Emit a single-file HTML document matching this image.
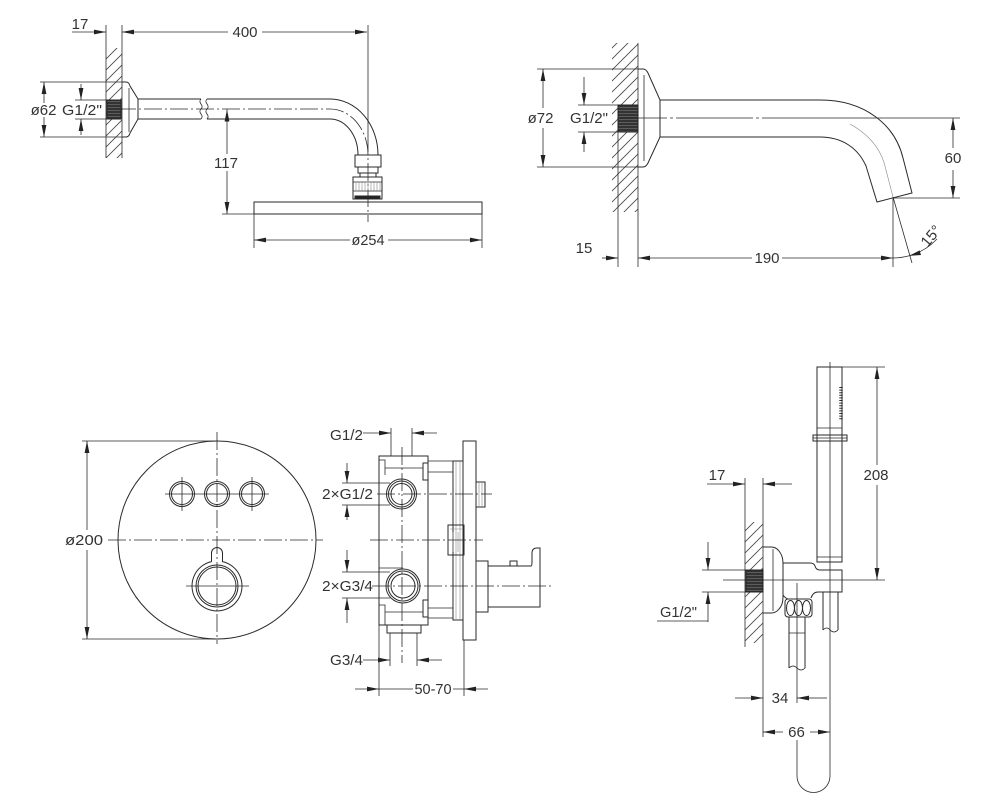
<!DOCTYPE html>
<html><head><meta charset="utf-8"><style>
html,body{margin:0;padding:0;background:#fff;}
svg{display:block}
text{font-family:"Liberation Sans",sans-serif;font-size:15px;fill:#333;stroke:none}
.c{stroke-dasharray:18 3 2 3;stroke-width:.8}
.t{stroke-width:.8}
.l{stroke:#888;stroke-width:.6}
</style></head><body>
<svg width="1000" height="803" viewBox="0 0 1000 803" xmlns="http://www.w3.org/2000/svg">
<defs>
<marker id="a" markerWidth="12" markerHeight="6" refX="12" refY="3" orient="auto-start-reverse" markerUnits="userSpaceOnUse"><path d="M0,0.6 L12,3 L0,5.4z" fill="#222" stroke="none"/></marker>
<pattern id="h" patternUnits="userSpaceOnUse" width="11" height="11"><path d="M0,11 L11,0 M-2,2 L2,-2 M9,13 L13,9" stroke="#444" stroke-width="0.8" fill="none"/></pattern>
<pattern id="th" patternUnits="userSpaceOnUse" width="3" height="3"><rect width="3" height="3" fill="#333"/><path d="M0,2.5 H3" stroke="#777" stroke-width=".6"/></pattern>
</defs>
<g fill="none" stroke="#2a2a2a" stroke-width="1">

<!-- ===== Region 1: shower arm ===== -->
<rect x="106" y="48" width="16" height="110" fill="url(#h)" stroke="none"/>
<path class="t" d="M106,25 V158 M122,25 V158"/>
<line class="t" x1="72" y1="32" x2="106" y2="32" marker-end="url(#a)"/>
<text x="80" y="29" text-anchor="middle">17</text>
<line class="t" x1="228" y1="32" x2="122" y2="32" marker-end="url(#a)"/>
<line class="t" x1="262" y1="32" x2="367" y2="32" marker-end="url(#a)"/>
<text x="245" y="37" text-anchor="middle">400</text>
<path class="t" d="M368,25 V152"/>
<path d="M122,82 L126,82 Q129,82 130,86 L138,99 L138,119 L130,133 Q129,137 126,137 L122,137"/>
<path class="t" d="M129,88 V132"/>
<rect x="107" y="100" width="14" height="19" fill="url(#th)" stroke="#222"/>
<path d="M138,99 L201,99 M138,119 L201,119"/>
<path class="t" d="M201,99 C197,103 205,105 201,109 C197,113 205,115 201,119 M207,99 C203,103 211,105 207,109 C203,113 211,115 207,119"/>
<path d="M207,99 L330,99 A48,56 0 0 1 378,155 M207,119 L330,119 A28,36 0 0 1 358,155"/>
<path class="c" d="M118,109 L330,109 A38,46 0 0 1 368,155 L368,222"/>
<rect x="355" y="155" width="26" height="12"/>
<rect x="358" y="167" width="20" height="6"/>
<rect x="360" y="173" width="16" height="4"/>
<rect x="353" y="177" width="29" height="22"/>
<path class="t" d="M353,182 H382 M353,191 H382"/>
<path class="l" d="M356,182 V191 M359,182 V191 M362,182 V191 M365,182 V191 M368,182 V191 M371,182 V191 M374,182 V191 M377,182 V191 M380,182 V191"/>
<rect x="355" y="196" width="25" height="3" fill="#222"/>
<rect x="254" y="202" width="228" height="12"/>
<line class="t" x1="227" y1="154" x2="227" y2="109.5" marker-end="url(#a)"/>
<line class="t" x1="227" y1="171" x2="227" y2="214" marker-end="url(#a)"/>
<text x="226" y="168" text-anchor="middle">117</text>
<path class="t" d="M222,214 H254 M254,214 V248 M482,214 V248"/>
<line class="t" x1="350" y1="240" x2="254" y2="240" marker-end="url(#a)"/>
<line class="t" x1="388" y1="240" x2="482" y2="240" marker-end="url(#a)"/>
<text x="368" y="245" text-anchor="middle" textLength="33" lengthAdjust="spacingAndGlyphs">ø254</text>
<path class="t" d="M40,82 H122 M40,137 H122"/>
<line class="t" x1="44" y1="103" x2="44" y2="82" marker-end="url(#a)"/>
<line class="t" x1="44" y1="117" x2="44" y2="137" marker-end="url(#a)"/>
<text x="43.5" y="115" text-anchor="middle">ø62</text>
<path class="t" d="M75,100 H107 M75,119 H107"/>
<line class="t" x1="81" y1="84" x2="81" y2="100" marker-end="url(#a)"/>
<line class="t" x1="81" y1="135" x2="81" y2="119" marker-end="url(#a)"/>
<text x="82" y="115" text-anchor="middle" textLength="40" lengthAdjust="spacingAndGlyphs">G1/2"</text>

<!-- ===== Region 2: spout ===== -->
<rect x="612" y="43" width="26" height="169" fill="url(#h)" stroke="none"/>
<path class="t" d="M638,43 V267 M618,105 V267"/>
<path d="M638,69 L643,69 Q646,69 648,73 L660,100 L660,137 L648,163 Q646,167 643,167 L638,167"/>
<path class="t" d="M644,75 V161"/>
<rect x="618" y="105" width="20" height="27" fill="url(#th)" stroke="#222"/>
<path d="M660,100 L820,100 C865,100 895,125 903,158 L912,193 L877,202 L866,166 C858,148 842,137 820,137 L660,137"/>
<path class="l" d="M850,124 C870,135 882,150 886,170 L893,197"/>
<path class="t" d="M618,118 H667 M670,118 H673 M676,118 H753 M756,118 H759 M762,118 H960"/>
<path class="t" d="M537,69 H638 M537,167 H638"/>
<line class="t" x1="543" y1="108" x2="543" y2="69" marker-end="url(#a)"/>
<line class="t" x1="543" y1="128" x2="543" y2="167" marker-end="url(#a)"/>
<text x="540.5" y="123" text-anchor="middle">ø72</text>
<path class="t" d="M578,105 H618 M578,132 H618"/>
<line class="t" x1="584" y1="77" x2="584" y2="105" marker-end="url(#a)"/>
<line class="t" x1="584" y1="152" x2="584" y2="132" marker-end="url(#a)"/>
<text x="589" y="123" text-anchor="middle" textLength="38" lengthAdjust="spacingAndGlyphs">G1/2"</text>
<line class="t" x1="953" y1="148" x2="953" y2="118" marker-end="url(#a)"/>
<line class="t" x1="953" y1="170" x2="953" y2="198" marker-end="url(#a)"/>
<text x="953" y="163" text-anchor="middle">60</text>
<path class="t" d="M893,198 H960"/>
<line class="t" x1="602" y1="258" x2="618" y2="258" marker-end="url(#a)"/>
<text x="584" y="253" text-anchor="middle">15</text>
<line class="t" x1="752" y1="258" x2="638" y2="258" marker-end="url(#a)"/>
<line class="t" x1="782" y1="258" x2="893" y2="258" marker-end="url(#a)"/>
<text x="767" y="263" text-anchor="middle">190</text>
<path class="t" d="M893,197 V267 M893,197 L912,263"/>
<path class="t" d="M893,258 A61,61 0 0 0 908.8,255.9"/>
<path class="t" d="M937,239 A61,61 0 0 1 908.8,255.9" marker-end="url(#a)"/>
<text transform="translate(931,236) rotate(-50)" x="0" y="5" text-anchor="middle">15°</text>

<!-- ===== Region 3: front plate ===== -->
<circle cx="217" cy="540" r="99"/>
<path class="c" d="M217,432 V644 M108,540 H323"/>
<path class="t" d="M82,441 H217 M82,639 H217"/>
<line class="t" x1="87" y1="530" x2="87" y2="441" marker-end="url(#a)"/>
<line class="t" x1="87" y1="550" x2="87" y2="639" marker-end="url(#a)"/>
<text x="84" y="545" text-anchor="middle" textLength="38" lengthAdjust="spacingAndGlyphs">ø200</text>
<circle cx="182" cy="494" r="12.5"/><circle cx="182" cy="494" r="10.5"/>
<circle cx="217" cy="494" r="12.5"/><circle cx="217" cy="494" r="10.5"/>
<circle cx="252" cy="494" r="12.5"/><circle cx="252" cy="494" r="10.5"/>
<path class="t" d="M165,494 H269 M182,477 V511 M252,477 V511"/>
<path d="M211.5,561.6 V553 A5.5,5.5 0 0 1 222.5,553 V561.6 A25,25 0 1 1 211.5,561.6"/>
<circle cx="217" cy="586" r="21"/>
<circle cx="217" cy="586" r="19"/>
<path class="t" d="M186,586 H249"/>

<!-- ===== Region 4: valve side ===== -->
<rect x="379" y="456" width="49" height="169"/>
<path class="t" d="M379,460 H385 V475 M385,468 H423"/>
<rect x="423" y="463" width="5" height="17"/>
<path class="t" d="M428,461 H453 M428,472 H453"/>
<rect x="453" y="461" width="10" height="159"/>
<path class="l" d="M456,461 V620 M460,461 V620"/>
<rect x="463" y="441" width="13" height="199"/>
<rect x="476" y="482" width="9" height="25"/>
<path class="l" d="M479,482 V507 M482,482 V507"/>
<rect x="448" y="525" width="16" height="30"/>
<path class="l" d="M450,529 H462 M453,532 V552 M458,532 V552"/>
<circle cx="401.5" cy="494" r="15"/><circle cx="401.5" cy="494" r="13"/><circle cx="401.5" cy="494" r="10.5"/>
<circle cx="403" cy="586" r="17"/><circle cx="403" cy="586" r="15"/><circle cx="403" cy="586" r="12"/>
<path class="t" d="M379,568 H403"/>
<path class="t" d="M379,605 H385 V625 M385,612 H423"/>
<rect x="423" y="600" width="5" height="17"/>
<path class="t" d="M428,608 H453 M428,618 H453"/>
<rect x="387" y="625" width="34" height="8"/>
<rect x="476" y="561" width="12" height="51"/>
<path d="M488,566 H531 Q532,566 532,562 V553 Q532,548 537,548 H540 V607 H488"/>
<rect x="510" y="561" width="7" height="5"/>
<path class="c" d="M402,447 V663 M377,494 H492 M372,586 H553 M370,540 H483"/>
<path class="t" d="M342,483 H390 M342,505 H390"/>
<line class="t" x1="347" y1="463" x2="347" y2="483" marker-end="url(#a)"/>
<line class="t" x1="347" y1="520" x2="347" y2="505" marker-end="url(#a)"/>
<text x="347.5" y="499" text-anchor="middle" textLength="51" lengthAdjust="spacingAndGlyphs">2×G1/2</text>
<path class="t" d="M342,572 H390 M342,598 H390"/>
<line class="t" x1="347" y1="550" x2="347" y2="572" marker-end="url(#a)"/>
<line class="t" x1="347" y1="623" x2="347" y2="598" marker-end="url(#a)"/>
<text x="347.5" y="591" text-anchor="middle" textLength="51" lengthAdjust="spacingAndGlyphs">2×G3/4</text>
<text x="346.5" y="440" text-anchor="middle" textLength="33" lengthAdjust="spacingAndGlyphs">G1/2</text>
<line class="t" x1="363" y1="433" x2="391" y2="433" marker-end="url(#a)"/>
<line class="t" x1="437" y1="433" x2="412" y2="433" marker-end="url(#a)"/>
<path class="t" d="M391,428 V456 M412,428 V456"/>
<text x="346.5" y="665" text-anchor="middle" textLength="33" lengthAdjust="spacingAndGlyphs">G3/4</text>
<line class="t" x1="363" y1="660" x2="390" y2="660" marker-end="url(#a)"/>
<line class="t" x1="442" y1="660" x2="417" y2="660" marker-end="url(#a)"/>
<path class="t" d="M390,633 V666 M417,633 V666"/>
<line class="t" x1="355" y1="689" x2="379" y2="689" marker-end="url(#a)"/>
<line class="t" x1="488" y1="689" x2="464" y2="689" marker-end="url(#a)"/>
<path class="t" d="M379,689 H413 M453,689 H464 M379,625 V696 M464,640 V696"/>
<text x="433" y="694" text-anchor="middle" textLength="37" lengthAdjust="spacingAndGlyphs">50-70</text>

<!-- ===== Region 5: hand shower ===== -->
<rect x="817" y="367" width="25" height="195"/>
<path class="t" d="M830,362 V776 A16.5,16.5 0 0 1 797,776 V740 M797,583 V703"/>
<path class="t" d="M817,428 H842 M813,438 H847 M817,557 H842"/>
<rect x="813" y="435" width="34" height="6"/>
<line x1="841" y1="387" x2="841" y2="420" stroke-width="3.5" stroke-dasharray="1 1.6"/>
<path class="t" d="M842,367 H885 M723,580 H885"/>
<line class="t" x1="877" y1="465" x2="877" y2="367" marker-end="url(#a)"/>
<line class="t" x1="877" y1="485" x2="877" y2="580" marker-end="url(#a)"/>
<text x="876" y="480" text-anchor="middle">208</text>
<text x="717" y="480" text-anchor="middle">17</text>
<line class="t" x1="707" y1="484" x2="745" y2="484" marker-end="url(#a)"/>
<line class="t" x1="792" y1="484" x2="763" y2="484" marker-end="url(#a)"/>
<path class="t" d="M745,478 V647 M763,478 V737"/>
<rect x="745" y="522" width="18" height="121" fill="url(#h)" stroke="none"/>
<rect x="746" y="570" width="17" height="22" fill="url(#th)" stroke="#222"/>
<path d="M763,547 H771 Q776,547 779,551 Q783,556 783,563 V597 Q783,605 779,609 Q776,613 771,613 H763"/>
<path class="t" d="M773,549 V611"/>
<path d="M783,563 H810 Q814,563 815,566 Q816,570 820,570 H842 V592 H818 Q813,592 811,598 M783,595 Q785,598 788,599"/>
<rect x="785" y="599" width="27" height="18" rx="3"/>
<ellipse cx="790.5" cy="608" rx="4" ry="7.5"/>
<ellipse cx="798.5" cy="608" rx="4" ry="7.5"/>
<ellipse cx="806.5" cy="608" rx="4" ry="7.5"/>
<path d="M789,617 V668 M805,617 V668 M823,592 V630 M838,592 V630"/>
<path class="t" d="M789,668 Q793,664 797,668 Q801,672 805,668 M789,633 H805 M823,630 Q827,626 830,630 Q834,634 838,630"/>
<line class="t" x1="735" y1="698" x2="763" y2="698" marker-end="url(#a)"/>
<line class="t" x1="812" y1="698" x2="797" y2="698" marker-end="url(#a)"/>
<path class="t" d="M812,698 H827"/>
<text x="780" y="703" text-anchor="middle">34</text>
<line class="t" x1="783" y1="732" x2="763" y2="732" marker-end="url(#a)"/>
<line class="t" x1="810" y1="732" x2="830" y2="732" marker-end="url(#a)"/>
<text x="796.5" y="737" text-anchor="middle">66</text>
<path class="t" d="M702,570 H746 M702,592 H746"/>
<line class="t" x1="708" y1="542" x2="708" y2="570" marker-end="url(#a)"/>
<line class="t" x1="708" y1="622" x2="708" y2="592" marker-end="url(#a)"/>
<text x="678.5" y="617" text-anchor="middle" textLength="37" lengthAdjust="spacingAndGlyphs">G1/2"</text>
<path class="t" d="M657,621 H708"/>
</g>
</svg>
</body></html>
